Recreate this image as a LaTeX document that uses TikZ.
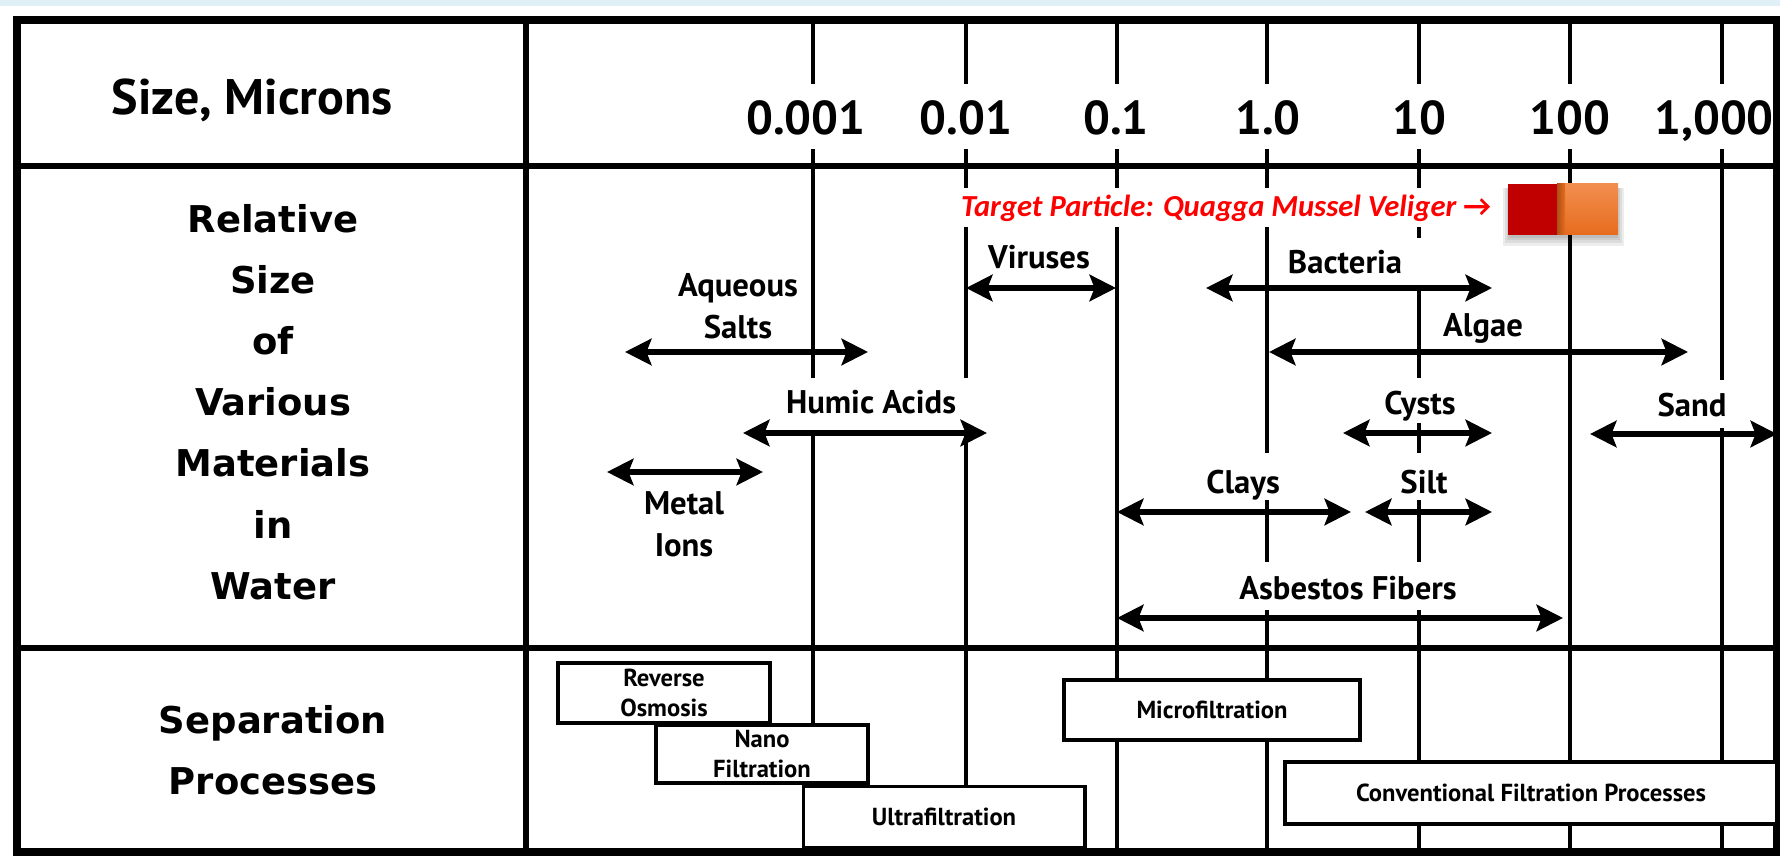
\documentclass[tikz,border=0pt]{standalone}
\usepackage{fontspec}
\setmainfont{PT Sans}
\newfontfamily\sidefont{DejaVu Sans}
\newfontfamily\notefont{Carlito}
\usetikzlibrary{arrows.meta,positioning}
\definecolor{stripblue}{RGB}{224,240,247}
\definecolor{notered}{RGB}{255,0,0}
\definecolor{veligerred}{RGB}{192,0,0}
\definecolor{orangetop}{RGB}{242,142,78}
\definecolor{orangebot}{RGB}{230,108,30}

\begin{document}
\begin{tikzpicture}[x=0.01cm, y=-0.01cm,
    border/.style={line width=2.3pt},
    sepline/.style={line width=1.6pt},
    gridline/.style={line width=1.15pt},
    rangearrow/.style={line width=1.5pt, {Stealth[length=7.5pt,width=7.5pt,inset=1.4pt]}-{Stealth[length=7.5pt,width=7.5pt,inset=1.4pt]}},
    ticklabel/.style={font=\fontsize{13.5}{15}\selectfont\bfseries, inner sep=0pt, text depth=0pt},
    sidehead/.style={font=\sidefont\bfseries\fontsize{10.5}{17.4}\selectfont, align=center, inner sep=0pt},
    matlabel/.style={font=\fontsize{9.3}{12}\selectfont\bfseries, align=center, inner sep=0pt, text depth=0pt},
    procbox/.style={draw, line width=1.1pt, fill=white, align=center, inner sep=0pt, font=\fontsize{7}{8.3}\selectfont\bfseries},
    shadowlayer/.style={fill=black, opacity=0.07}]

    % Fond
    \useasboundingbox (0,0) rectangle (1780,868);
    \fill[white] (0,0) rectangle (1780,868);
    \fill[stripblue] (0,0) rectangle (1780,6);

    % Lignes verticales
    \draw[gridline] (813,20) -- (813,84);
    \draw[gridline] (813,149) -- (813,378);
    \draw[gridline] (813,433) -- (813,725);
    \draw[gridline] (966,20) -- (966,84);
    \draw[gridline] (966,149) -- (966,378);
    \draw[gridline] (966,433) -- (966,787);
    \draw[gridline] (1117,20) -- (1117,84);
    \draw[gridline] (1117,149) -- (1117,852);
    \draw[gridline] (1267,20) -- (1267,84);
    \draw[gridline] (1267,149) -- (1267,453);
    \draw[gridline] (1267,500) -- (1267,562);
    \draw[gridline] (1267,610) -- (1267,852);
    \draw[gridline] (1419,20) -- (1419,84);
    \draw[gridline] (1419,149) -- (1419,238);
    \draw[gridline] (1419,288) -- (1419,378);
    \draw[gridline] (1419,423) -- (1419,453);
    \draw[gridline] (1419,500) -- (1419,562);
    \draw[gridline] (1419,610) -- (1419,852);
    \draw[gridline] (1570,20) -- (1570,84);
    \draw[gridline] (1570,149) -- (1570,852);
    \draw[gridline] (1722,20) -- (1722,84);
    \draw[gridline] (1722,149) -- (1722,380);
    \draw[gridline] (1722,428) -- (1722,852);

    % Cadre
    \draw[border] (17,20) rectangle (1777,852);
    \draw[sepline] (17,166) -- (1777,166);
    \draw[sepline] (17,648) -- (1777,648);
    \draw[sepline] (526,20) -- (526,852);

    % Colonne de gauche
    \node[font=\fontsize{14.2}{16}\selectfont\bfseries, inner sep=0pt] (sizehead) at (252,100) {Size, Microns};
    \node[sidehead] (relsize) at (273,402) {Relative\\Size\\of\\Various\\Materials\\in\\Water};
    \node[sidehead] (sephead) at (273,750) {Separation\\Processes};

    % Graduations
    \node[ticklabel] (t0) at (806,118) {0.001};
    \node[ticklabel] (t1) at (966,118) {0.01};
    \node[ticklabel] (t2) at (1116,118) {0.1};
    \node[ticklabel] (t3) at (1268,118) {1.0};
    \node[ticklabel] (t4) at (1419,118) {10};
    \node[ticklabel] (t5) at (1570,118) {100};
    \node[ticklabel] (t6) at (1714,118) {1,000};

    % Matieres
    \node[matlabel] (aqueous) at (738,306) {Aqueous\\Salts};
    \node[matlabel] (viruses) at (1039,257) {Viruses};
    \node[matlabel] (humic) at (871,402) {Humic Acids};
    \node[matlabel] (metal) at (684,524) {Metal\\Ions};
    \node[matlabel] (bacteria) at (1345,262) {Bacteria};
    \node[matlabel] (algae) at (1483,325) {Algae};
    \node[matlabel] (cysts) at (1420,403) {Cysts};
    \node[matlabel] (sand) at (1692,405) {Sand};
    \node[matlabel] (clays) at (1243,482) {Clays};
    \node[matlabel] (silt) at (1424,482) {Silt};
    \node[matlabel] (asbestos) at (1348,588) {Asbestos Fibers};

    % Plages de tailles
    \draw[rangearrow] (625,352) -- (868,352);
    \draw[rangearrow] (966,288) -- (1116,288);
    \draw[rangearrow] (743,433) -- (987,433);
    \draw[rangearrow] (607,472) -- (763,472);
    \draw[rangearrow] (1206,288) -- (1492,288);
    \draw[rangearrow] (1269,352) -- (1688,352);
    \draw[rangearrow] (1343,433) -- (1492,433);
    \draw[rangearrow] (1590,434) -- (1777,434);
    \draw[rangearrow] (1117,512) -- (1351,512);
    \draw[rangearrow] (1365,512) -- (1492,512);
    \draw[rangearrow] (1117,618) -- (1563,618);

    % Procedes
    \node[procbox, minimum width=2.12cm, minimum height=0.6cm] (ro) at (664,693) {Reverse\\Osmosis};
    \node[procbox, minimum width=2.12cm, minimum height=0.58cm, font=\fontsize{7}{8.5}\selectfont\bfseries] (nf) at (762,754) {Nano\\Filtration};
    \node[procbox, minimum width=2.81cm, minimum height=0.61cm] (uf) at (944,817) {Ultrafiltration};
    \node[procbox, minimum width=2.96cm, minimum height=0.6cm] (mf) at (1212,710) {Microfiltration};
    \node[procbox, minimum width=4.92cm, minimum height=0.62cm] (cf) at (1531,793) {Conventional Filtration Processes};

    % Particule cible
    \node[fill=white, anchor=west, inner xsep=1pt, inner ysep=0pt, minimum height=0.39cm, text=notered,
          font=\notefont\bfseries\itshape\fontsize{8.7}{10}\selectfont] (target) at (957,208)
          {Target Particle: Quagga Mussel Veliger\ {\upshape→}};
    \fill[shadowlayer] (1503,188) rectangle (1624,246);
    \fill[shadowlayer] (1505,188) rectangle (1622,243);
    \fill[shadowlayer] (1507,188) rectangle (1620,240);
    \fill[shadowlayer] (1509,188) rectangle (1618,238);
    \fill[veligerred] (1508,184) rectangle (1557,235);
    \shade[top color=orangetop, bottom color=orangebot] (1557,184) rectangle (1618,235);
    \shade[left color=orangebot!75!black, right color=orangebot] (1557,184) rectangle (1565,235);
\end{tikzpicture}
\end{document}
